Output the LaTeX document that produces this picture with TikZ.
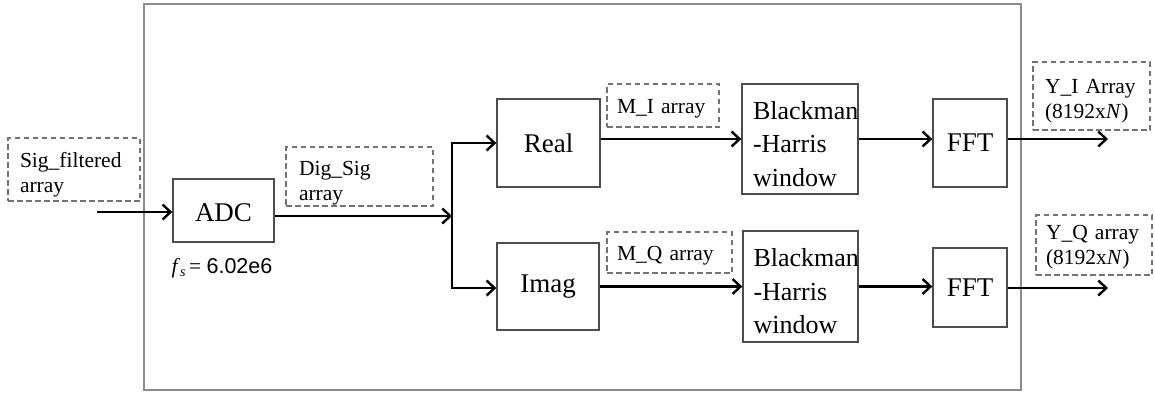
\documentclass[tikz,border=0pt]{standalone}
\usepackage{fontspec}
\setmainfont{Liberation Serif}
\setsansfont{Liberation Sans}
\usetikzlibrary{arrows.meta}
\newcommand\blkfont{\fontsize{27}{33}\selectfont}
\newcommand\winfont{\fontsize{26}{33.5}\selectfont}
\newcommand\lblfont{\fontsize{21.5}{25}\selectfont}
% vertical strut on the first line pushes the text block down in its box
\newcommand\topgap[1]{\rule{0pt}{#1pt}}
\tikzset{
  blk/.style={draw=black!70, line width=1.4pt, fill=white, inner sep=0pt,
    font=\blkfont, align=center},
  win/.style={blk, font=\winfont, align=left, text width=94pt},
  lbl/.style={draw=black!55, line width=1.3pt, dash pattern=on 5.5pt off 3.5pt,
    inner ysep=0pt, font=\lblfont, align=left},
  tip/.tip={Straight Barb[length=8pt,width=15pt,line width=2.4pt]},
  flow/.style={line width=2.8pt, -tip},
  frame/.style={draw=black!45, line width=2.6pt},
}
\begin{document}
\begin{tikzpicture}[x=1pt,y=-1pt]
  \useasboundingbox (0,0) rectangle (1155,392);
  % enclosing system boundary
  \draw[frame] (144,4) rectangle (1021,390);

  % processing blocks
  \node[blk, minimum width=101, minimum height=63] (adc) at (223.5,210.5) {\topgap{22}ADC};
  \node[blk, minimum width=103, minimum height=88] (real) at (548.5,143) {Real};
  \node[blk, minimum width=102, minimum height=87] (imag) at (548,286.5) {Imag};
  \node[win, minimum width=116, minimum height=110] (bh1) at (800,139)
    {\topgap{28}Blackman\\-Harris\\window};
  \node[win, minimum width=115, minimum height=111] (bh2) at (800.5,286.5)
    {\topgap{28}Blackman\\-Harris\\window};
  \node[blk, minimum width=74, minimum height=88] (fft1) at (970,143) {FFT};
  \node[blk, minimum width=74, minimum height=79] (fft2) at (970,287.5) {FFT};

  % data labels
  \node[lbl, minimum width=132, minimum height=63, inner xsep=12pt, text width=108pt]
    (sig) at (74,169.5) {\topgap{25}Sig\_filtered\\array};
  \node[lbl, minimum width=147, minimum height=59, inner xsep=13pt, text width=121pt]
    (dig) at (359.5,176.5) {\topgap{27}Dig\_Sig\\array};
  \node[lbl, minimum width=112, minimum height=43, inner xsep=10pt, text width=92pt]
    (mi) at (663,105.5) {\topgap{21}M\_I array};
  \node[lbl, minimum width=125, minimum height=41, inner xsep=10pt, text width=105pt]
    (mq) at (669.5,252.5) {\topgap{21}M\_Q array};
  \node[lbl, minimum width=117, minimum height=68, inner xsep=12pt, text width=93pt]
    (yi) at (1091.5,96) {\topgap{25}Y\_I Array\\(8192x\textit{N})};
  \node[lbl, minimum width=116, minimum height=60, inner xsep=10pt, text width=96pt]
    (yq) at (1094,245) {\topgap{19}Y\_Q array\\(8192x\textit{N})};

  % sampling rate
  \node[font=\lblfont, inner sep=0pt] (fs) at (222,268)
    {\textit{f}\raisebox{-0.35ex}{\fontsize{14}{14}\selectfont\textit{s}}\,= {\sffamily 6.02e6}};

  % free ends of the signal path
  \coordinate (in) at (97,212);
  \coordinate (split) at (452,216);
  \coordinate (splitT) at (452,143);
  \coordinate (splitB) at (452,288);
  \coordinate (out1) at (1108,139);
  \coordinate (out2) at (1108,288);

  % connectors
  \draw[flow] (in) -- (in -| adc.west);
  \draw[flow] (adc.east |- split) -- (split);
  \draw[line width=2.8pt, tip-tip] (real.west) -- (splitT) -- (splitB) -- (splitB -| imag.west);
  \draw[flow] (real.east |- bh1.west) -- (bh1.west);
  \draw[flow] (bh1.east) -- (bh1.east -| fft1.west);
  \draw[flow] (fft1.east |- out1) -- (out1);
  \draw[flow] (imag.east) -- (imag.east -| bh2.west);
  \draw[flow] (bh2.east) -- (bh2.east -| fft2.west);
  \draw[flow] (fft2.east |- out2) -- (out2);
\end{tikzpicture}
\end{document}
